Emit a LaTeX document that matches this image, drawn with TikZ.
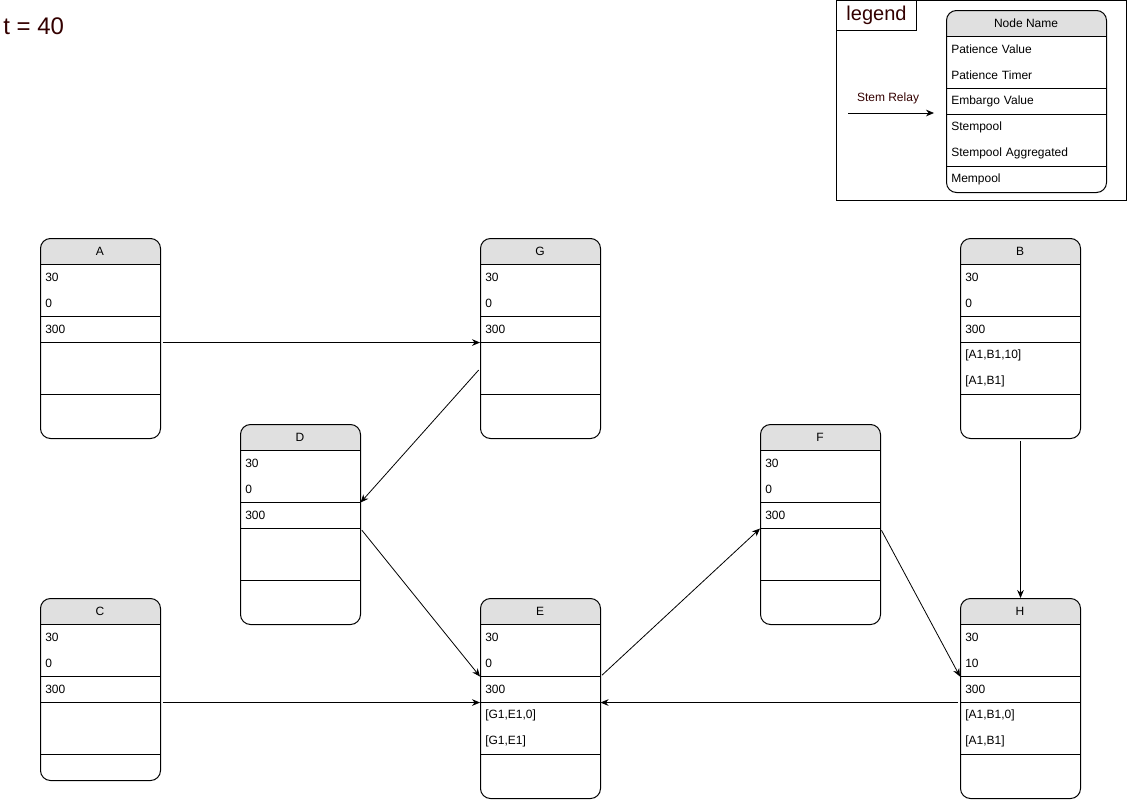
\documentclass[tikz,border=0pt]{standalone}
\usepackage{fontspec}
\setmainfont{Liberation Sans}
\usetikzlibrary{arrows.meta}
\definecolor{ink}{RGB}{51,0,0}
\definecolor{hdr}{RGB}{224,224,224}
\tikzset{
 peerbox/.style={draw, rounded corners=7.5pt, minimum width=90pt, inner sep=0pt, line width=0.75pt},
 rowtxt/.style={anchor=north west, minimum height=19.5pt, text width=82.5pt, inner xsep=3.75pt, inner ysep=0pt, align=left, font=\fontsize{9}{10}\selectfont},
 ttl/.style={font=\fontsize{9}{10}\selectfont, inner sep=0pt},
 sep/.style={line width=0.75pt},
 relay/.style={-{Stealth[length=6pt,width=5pt]}, line width=0.6pt, shorten <=1.5pt},
}
\newcommand{\peer}[9]{%
 \coordinate (#1-o) at (#2);
 \begin{scope}
  \clip[rounded corners=7.5pt] (#1-o) rectangle ([shift={(120,#3)}]#1-o);
  \fill[hdr] (#1-o) rectangle ([shift={(120,26)}]#1-o);
 \end{scope}
 \node[peerbox, minimum height=#3*0.75pt, anchor=north west] (#1) at (#1-o) {};
 \node[ttl] (#1-t) at ([shift={(60,13)}]#1-o) {#4};
 \node[rowtxt] (#1-r1) at ([shift={(0,26)}]#1-o) {#5};
 \node[rowtxt] (#1-r2) at ([shift={(0,52)}]#1-o) {#6};
 \node[rowtxt] (#1-r3) at ([shift={(0,78)}]#1-o) {#7};
 \node[rowtxt] (#1-r4) at ([shift={(0,104)}]#1-o) {#8};
 \node[rowtxt] (#1-r5) at ([shift={(0,130)}]#1-o) {#9};
 \foreach \yy in {26,78,104,156}{\draw[sep] ([shift={(0,\yy)}]#1-o) -- ([shift={(120,\yy)}]#1-o);}
}
\begin{document}
\begin{tikzpicture}[x=0.75pt,y=-0.75pt]
\useasboundingbox (0,0) rectangle (1127,800);

\node[font=\fontsize{18}{20}\selectfont, text=ink, anchor=west, inner sep=0pt] (time) at (3,26) {t = 40};

% legend
\node[draw, line width=0.75pt, anchor=north west, minimum width=217.5pt, minimum height=150pt, inner sep=0pt] (legbox) at (836,0) {};
\node[draw, line width=0.75pt, anchor=north west, minimum width=60pt, minimum height=22.5pt, inner sep=0pt, text=ink, font=\fontsize{15}{16}\selectfont] (leglabel) at (836,0) {legend};
\begin{scope}
 \clip[rounded corners=7.5pt] (946,10) rectangle (1106,192);
 \fill[hdr] (946,10) rectangle (1106,36);
\end{scope}
\node[peerbox, minimum width=120pt, minimum height=136.5pt, anchor=north west] (L) at (946,10) {};
\node[ttl] (L-t) at (1026,23) {Node Name};
\tikzset{lrow/.style={rowtxt, text width=112.5pt}}
\node[lrow] (L-r1) at (946,36) {Patience Value};
\node[lrow] (L-r2) at (946,62) {Patience Timer};
\node[lrow] (L-r3) at (946,88) {Embargo Value};
\node[lrow] (L-r4) at (946,114) {Stempool};
\node[lrow] (L-r5) at (946,140) {Stempool Aggregated};
\node[lrow] (L-r6) at (946,166) {Mempool};
\foreach \yy in {36,88,114,166}{\draw[sep] (946,\yy) -- (1106,\yy);}
\coordinate (ls) at (846,113);
\coordinate (le) at (934,113);
\draw[relay] (ls) -- (le);
\node[ttl, text=ink] (stemlbl) at (888,98) {Stem Relay};

% peers
\peer{A}{40,238}{200}{A}{30}{0}{300}{}{}
\peer{G}{480,238}{200}{G}{30}{0}{300}{}{}
\peer{B}{960,238}{200}{B}{30}{0}{300}{[A1,B1,10]}{[A1,B1]}
\peer{D}{240,424}{200}{D}{30}{0}{300}{}{}
\peer{F}{760,424}{200}{F}{30}{0}{300}{}{}
\peer{C}{40,598}{182}{C}{30}{0}{300}{}{}
\peer{E}{480,598}{200}{E}{30}{0}{300}{[G1,E1,0]}{[G1,E1]}
\peer{H}{960,598}{200}{H}{30}{10}{300}{[A1,B1,0]}{[A1,B1]}

% stem relays
\draw[relay] (A-r3.south east) -- (G-r3.south west);
\draw[relay] (G-r4.south west) -- (D-r2.south east);
\draw[relay] (D-r3.south east) -- (E-r2.south west);
\draw[relay] (C-r3.south east) -- (E-r3.south west);
\draw[relay] (E-r2.south east) -- (F-r3.south west);
\draw[relay] (F-r3.south east) -- (H-r2.south west);
\draw[relay] (H-r3.south west) -- (E-r3.south east);
\draw[relay] (B.south) -- (H.north);
\end{tikzpicture}
\end{document}
